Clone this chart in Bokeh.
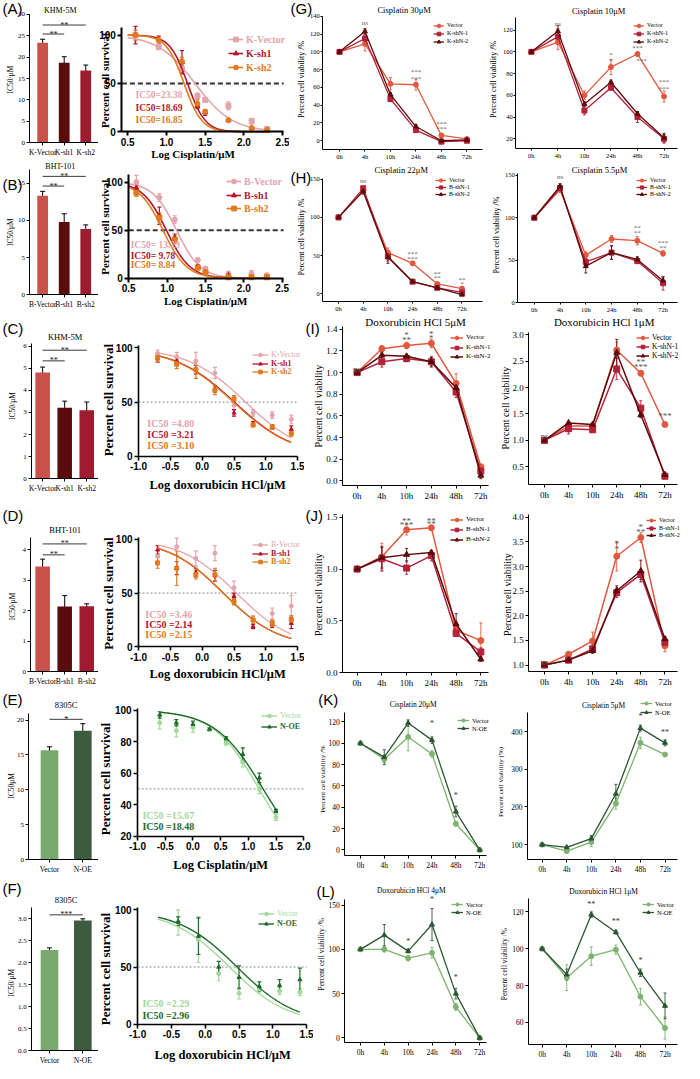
import numpy as np
from bokeh.plotting import figure
from bokeh.models import (Range1d, FixedTicker, Label, Legend, LegendItem, Whisker,
                          ColumnDataSource, TeeHead, PrintfTickFormatter)
from bokeh.layouts import column, row
from bokeh.embed import file_html
from bokeh.resources import INLINE

# ======================= DATA =======================
times = ["0h", "4h", "10h", "24h", "48h", "72h"]

# --- IC50 bar charts ---
barA_cats = ["K-Vector", "K-sh1", "K-sh2"]; barA_ic50 = [23.38, 18.69, 16.85]; barA_err = [0.8, 1.4, 1.3]
barB_cats = ["B-Vector", "B-sh1", "B-sh2"]; barB_ic50 = [13.29, 9.78, 8.84]; barB_err = [0.6, 1.1, 0.55]
barC_cats = ["K-Vector", "K-sh1", "K-sh2"]; barC_ic50 = [4.80, 3.21, 3.10]; barC_err = [0.25, 0.30, 0.37]
barD_cats = ["B-Vector", "B-sh1", "B-sh2"]; barD_ic50 = [3.46, 2.14, 2.15]; barD_err = [0.24, 0.36, 0.08]
barE_cats = ["Vector", "N-OE"]; barE_ic50 = [15.67, 18.48]; barE_err = [0.5, 1.0]
barF_cats = ["Vector", "N-OE"]; barF_ic50 = [2.29, 2.96]; barF_err = [0.05, 0.04]
# significance brackets: (from bar, to bar, height, text)
sigA = [(0, 2, 27.5, "**"), (0, 1, 25.4, "**")]
sigB = [(0, 2, 15.9, "**"), (0, 1, 14.6, "**")]
sigC = [(0, 2, 5.81, "**"), (0, 1, 5.33, "**")]
sigD = [(0, 2, 4.20, "**"), (0, 1, 3.84, "**")]
sigE = [(0, 1, 20.1, "*")]
sigF = [(0, 1, 3.09, "***")]

# --- dose-response curves ---
cisK_dose = [0.6, 0.9, 1.2, 1.4, 1.5, 1.8, 2.1, 2.3]
cisK_names = ["K-Vector", "K-sh1", "K-sh2"]
cisK_surv = [[100, 88, 65, 37, 33, 27, 11, 3], [100, 96, 72, 27, 20, 12, 4, 2], [100, 95, 73, 29, 21, 12, 4, 2]]
cisK_err = [[6, 3, 4, 3, 2, 4, 3, 1], [9, 3, 12, 3, 3, 1, 1, 1], [5, 4, 4, 4, 2, 1, 1, 1]]
cisK_ic50 = [23.38, 18.69, 16.85]; cisK_hill = [1.8, 3.8, 3.8]; cisK_fit = [0.5, 2.33]

cisB_dose = [0.6, 0.9, 1.1, 1.4, 1.5, 1.8, 2.1, 2.3]
cisB_names = ["B-Vector", "B-sh1", "B-sh2"]
cisB_surv = [[100, 84, 61, 19, 10, 5, 5, 3], [94, 65, 42, 12, 6, 3, 1, 1], [89, 63, 40, 11, 6, 1, 1, 1]]
cisB_err = [[7, 4, 4, 2, 2, 2, 3, 2], [3, 9, 4, 2, 1, 1, 1, 1], [4, 5, 4, 2, 1, 1, 1, 1]]
cisB_ic50 = [13.29, 9.78, 8.84]; cisB_hill = [2.8, 2.8, 2.8]; cisB_fit = [0.5, 2.3]

doxK_dose = [-0.7, -0.4, -0.1, 0.2, 0.5, 0.8, 1.1, 1.4]
doxK_names = ["K-Vector", "K-sh1", "K-sh2"]
doxK_surv = [[95, 92, 88, 77, 47, 40, 38, 34], [90, 88, 80, 62, 40, 30, 27, 25], [91, 85, 80, 61, 53, 29, 27, 21]]
doxK_err = [[3, 4, 8, 5, 5, 3, 3, 4], [3, 3, 4, 3, 3, 2, 2, 3], [4, 4, 8, 4, 3, 2, 2, 3]]
doxK_ic50 = [4.80, 3.21, 3.10]; doxK_hill = [0.96, 0.93, 0.93]; doxK_fit = [-0.7, 1.4]

doxB_dose = [-0.7, -0.4, -0.1, 0.2, 0.5, 0.8, 1.1, 1.4]
doxB_names = ["B-Vector", "B-sh1", "B-sh2"]
doxB_surv = [[84, 93, 82, 87, 55, 25, 31, 38], [90, 73, 69, 66, 47, 19, 21, 22], [78, 73, 67, 67, 42, 25, 22, 25]]
doxB_err = [[8, 8, 7, 7, 6, 4, 5, 10], [4, 6, 4, 5, 3, 2, 3, 5], [5, 16, 4, 6, 3, 3, 3, 4]]
doxB_ic50 = [3.46, 2.14, 2.15]; doxB_hill = [1.0, 1.0, 1.0]; doxB_fit = [-0.7, 1.4]

cisN_dose = [-0.6, -0.3, 0.0, 0.3, 0.6, 0.9, 1.2, 1.5]
cisN_names = ["Vector", "N-OE"]
cisN_surv = [[92, 87, 89, 88, 79, 67, 50, 32], [97, 92, 91, 88, 82, 72, 57, 36]]
cisN_err = [[4, 4, 3, 1, 1, 3, 3, 2], [2, 2, 2, 1, 1, 4, 3, 1]]
cisN_ic50 = [15.67, 18.48]; cisN_hill = [1.05, 1.0]; cisN_fit = [-0.6, 1.5]

doxN_dose = [-0.4, -0.1, 0.2, 0.5, 0.8, 1.1, 1.4]
doxN_names = ["Vector", "N-OE"]
doxN_surv = [[89, 74, 44, 27, 31, 29, 28], [90, 77, 50, 41, 33, 34, 39]]
doxN_err = [[11, 20, 6, 5, 3, 3, 3], [4, 16, 5, 10, 4, 5, 10]]
doxN_ic50 = [2.29, 2.96]; doxN_hill = [1.0, 1.0]; doxN_fit = [-0.7, 1.4]

# --- time-course viability ---
kNames = ["Vector", "K-shN-1", "K-shN-2"]
bNames = ["Vector", "B-shN-1", "B-shN-2"]
nNames = ["Vector", "N-OE"]
G1_vals = [[100, 109, 64, 63, 6, 2], [100, 115, 47, 12, -1, 0], [100, 123, 52, 16, 0, 1]]
G1_err = [[1, 8, 7, 6, 1, 1], [1, 4, 3, 2, 1, 1], [1, 3, 2, 2, 1, 1]]
G2_vals = [[100, 109, 60, 86, 98, 59], [100, 114, 46, 67, 40, 20], [100, 119, 52, 72, 43, 21]]
G2_err = [[1, 7, 4, 7, 2, 5], [1, 7, 4, 2, 5, 4], [1, 5, 2, 2, 2, 4]]
H1_vals = [[100, 135, 54, 40, 13, 7], [100, 138, 49, 16, 8, 2], [100, 134, 48, 16, 8, -1]]
H1_err = [[1, 5, 6, 2, 2, 2], [1, 3, 6, 1, 1, 1], [1, 3, 8, 1, 1, 1]]
H2_vals = [[100, 133, 56, 75, 73, 58], [100, 135, 48, 59, 49, 23], [100, 137, 43, 59, 51, 26]]
H2_err = [[1, 3, 4, 4, 5, 3], [1, 3, 5, 8, 3, 8], [1, 3, 8, 8, 3, 4]]
I1_vals = [[1.0, 1.22, 1.25, 1.27, 0.90, 0.13], [1.0, 1.10, 1.13, 1.10, 0.82, 0.09], [1.0, 1.16, 1.15, 1.10, 0.86, 0.05]]
I1_err = [[0.01, 0.03, 0.03, 0.04, 0.09, 0.02], [0.01, 0.05, 0.03, 0.05, 0.05, 0.03], [0.01, 0.02, 0.02, 0.04, 0.04, 0.03]]
I2_vals = [[1.0, 1.27, 1.27, 2.71, 2.27, 1.30], [1.0, 1.22, 1.20, 2.35, 1.61, 0.32], [1.0, 1.33, 1.30, 2.66, 1.48, 0.35]]
I2_err = [[0.01, 0.05, 0.03, 0.15, 0.05, 0.02], [0.01, 0.10, 0.05, 0.20, 0.14, 0.03], [0.01, 0.03, 0.02, 0.25, 0.05, 0.03]]
J1_vals = [[1.0, 1.12, 1.38, 1.40, 0.41, 0.31], [1.0, 1.10, 1.01, 1.13, 0.38, 0.20], [1.0, 1.11, 1.14, 1.16, 0.47, 0.13]]
J1_err = [[0.01, 0.13, 0.05, 0.02, 0.05, 0.17], [0.01, 0.12, 0.06, 0.05, 0.03, 0.04], [0.01, 0.10, 0.06, 0.02, 0.10, 0.02]]
J2_vals = [[1.0, 1.22, 1.49, 3.21, 3.59, 1.39], [1.0, 1.10, 1.33, 2.47, 2.84, 1.46], [1.0, 1.10, 1.29, 2.51, 2.91, 1.53]]
J2_err = [[0.02, 0.02, 0.18, 0.30, 0.10, 0.12], [0.02, 0.05, 0.08, 0.10, 0.10, 0.08], [0.02, 0.05, 0.05, 0.10, 0.22, 0.05]]
K1_vals = [[100, 85, 106, 90, 24.5, 0], [100, 87, 119, 103, 36, 0]]
K1_err = [[1, 3, 13, 3, 2, 1], [1, 7, 3, 3, 5, 1]]
K2_vals = [[100, 83, 107, 209, 370, 339], [100, 93, 116, 235, 409, 370]]
K2_err = [[3, 5, 12, 15, 15, 3], [3, 3, 8, 25, 8, 8]]
L1_vals = [[100, 100, 90, 96, 35, 0], [100, 116, 98, 128, 50, 0]]
L1_err = [[1, 3, 3, 6, 4, 1], [1, 12, 2, 18, 6, 1]]
L2_vals = [[100, 84.3, 96, 99.5, 74, 57], [100, 86, 118.5, 109, 87, 69]]
L2_err = [[0.5, 7, 5, 2.5, 4.5, 6], [0.5, 3, 1.5, 1, 2, 7]]
# significance marks: (time index, y, text)
G1_sig = [(1, 132, "ns"), (3, 77, "***"), (3, 69, "***"), (4, 19, "***"), (4, 13, "***")]
G2_sig = [(1, 126, "ns"), (3, 97, "*"), (3, 92, "*"), (4, 104, "***"), (4.15, 92, "***"), (5, 72, "***"), (5, 66, "***")]
H1_sig = [(1, 147, "ns"), (3, 52, "***"), (3, 46, "***"), (4, 25.7, "**"), (4, 20.6, "**"), (5, 18.6, "**"), (5, 13.5, "*")]
H2_sig = [(1, 148, "ns"), (4, 87.6, "**"), (4, 81.8, "**"), (5, 70, "***"), (5, 64, "**")]
I1_sig = [(0, 1.03, "ns"), (2, 1.345, "*"), (2, 1.30, "**"), (3, 1.36, "*"), (3, 1.32, "*")]
I2_sig = [(0, 1.09, "ns"), (4, 2.48, "**"), (4, 2.38, "***"), (5, 1.47, "***")]
J1_sig = [(2, 1.46, "**"), (2, 1.43, "***"), (3, 1.46, "**"), (3, 1.44, "**")]
J2_sig = [(0, 1.07, "ns"), (3, 3.46, "*"), (3, 3.36, "*"), (4, 3.80, "*"), (4, 3.70, "**")]
K1_sig = [(3, 119, "*"), (4, 51, "*")]
K2_sig = [(4, 439, "*"), (5, 397, "**")]
L1_sig = [(2, 109, "*"), (3, 156, "*"), (4, 68, "*")]
L2_sig = [(2, 124.2, "**"), (3, 114.6, "**"), (4, 93.7, "*")]

# ======================= STYLE =======================
SERIF = "Liberation Serif"
SANS = "Liberation Sans"
barRed = ["#c8534a", "#5a0b0b", "#9e1c2f"]
barGreen = ["#7aa970", "#3c5b3f"]
curveRed = ["#e3a4ac", "#b4142c", "#e07a1c"]
curveGreen = ["#a3d99b", "#1e6b2a"]
lineRed = ["#e2583e", "#b3213a", "#5e0a0a"]
lineGreen = ["#7db36e", "#2c5532"]

SX = 684 / 700
SY = 1063 / 1079
CAL = {}


def sx(v):
    return int(round(v * SX))


def sy(v):
    return int(round(v * SY))


def lin(v1, p1, v2, p2, p):
    return v1 + (p - p1) * (v2 - v1) / (p2 - p1)


RY = [0, 163, 320, 510, 699, 889, 1079]
RX = [[0, 100, 296, 497, 700], [0, 100, 296, 497, 700], [0, 100, 311, 506, 700],
      [0, 100, 311, 506, 700], [0, 100, 318, 500, 700], [0, 100, 320, 500, 700]]


def mkfig(r, c, frame, xcal, ycal):
    box = (RX[r][c], RY[r], RX[r][c + 1], RY[r + 1])
    bx0, by0, bx1, by1 = box
    fx0, fy0, fx1, fy1 = frame
    p = figure(width=sx(bx1) - sx(bx0), height=sy(by1) - sy(by0),
               min_border_left=0, min_border_right=0, min_border_top=0, min_border_bottom=0,
               x_range=Range1d(lin(*xcal, bx0), lin(*xcal, bx1)),
               y_range=Range1d(lin(*ycal, by1), lin(*ycal, by0)),
               output_backend="svg", toolbar_location=None)
    p.outline_line_color = None
    p.xgrid.visible = False
    p.ygrid.visible = False
    p.border_fill_color = "white"
    p.xaxis[0].fixed_location = lin(*ycal, fy1)
    p.yaxis[0].fixed_location = lin(*xcal, fx0)
    p.xaxis[0].bounds = (lin(*xcal, fx0), lin(*xcal, fx1))
    p.yaxis[0].bounds = (lin(*ycal, fy1), lin(*ycal, fy0))
    CAL[p.id] = (xcal, ycal, frame, box)
    return p


def txt(p, x, y, text, size, color="black", font=SERIF, bold=False, align="center", angle=0.0):
    xcal, ycal, _, _ = CAL[p.id]
    p.add_layout(Label(x=lin(*xcal, x), y=lin(*ycal, y), text=text, text_font=font,
                       text_font_size=f"{size}px", text_color=color,
                       text_font_style="bold" if bold else "normal",
                       text_align=align, text_baseline="middle", angle=angle))


def dlabel(p, x, y, text, size, color="black", font=SERIF):
    p.add_layout(Label(x=x, y=y, text=text, text_font=font, text_font_size=f"{size}px",
                       text_color=color, text_align="center", text_baseline="middle"))


def hline50(p, dash, color, width):
    xcal, ycal, frame, _ = CAL[p.id]
    p.segment(x0=[lin(*xcal, frame[0])], x1=[lin(*xcal, frame[2])], y0=[50], y1=[50],
              line_color=color, line_width=width, line_dash=dash)


def axes(p, xticks, yticks, size, font=SERIF, bold=False, lw=1.0, tick=3, xfmt=None, yfmt=None, standoff=2):
    for ax in (p.xaxis[0], p.yaxis[0]):
        ax.axis_line_width = lw
        ax.axis_line_color = "black"
        ax.major_tick_line_width = lw
        ax.major_tick_line_color = "black"
        ax.major_tick_out = tick
        ax.major_tick_in = 0
        ax.minor_tick_out = 0
        ax.minor_tick_in = 0
        ax.major_label_text_font = font
        ax.major_label_text_font_size = f"{size}px"
        ax.major_label_text_font_style = "bold" if bold else "normal"
        ax.major_label_text_color = "black"
        ax.major_label_standoff = standoff
    p.xaxis[0].ticker = FixedTicker(ticks=xticks)
    p.yaxis[0].ticker = FixedTicker(ticks=yticks)
    if xfmt:
        p.xaxis[0].formatter = PrintfTickFormatter(format=xfmt)
    if yfmt:
        p.yaxis[0].formatter = PrintfTickFormatter(format=yfmt)


def errbars(p, xs, ys, es, color, head=4, lw=1.0):
    src = ColumnDataSource(dict(x=list(xs), lo=[y - e for y, e in zip(ys, es)], hi=[y + e for y, e in zip(ys, es)]))
    p.add_layout(Whisker(source=src, base="x", lower="lo", upper="hi", line_color=color, line_width=lw,
                         upper_head=TeeHead(size=head, line_color=color, line_width=lw),
                         lower_head=TeeHead(size=head, line_color=color, line_width=lw)))


def leg(p, rends, label, tx, ty, size, color="black", gw=14, gh=10, bold=False, font=SERIF):
    _, _, _, box = CAL[p.id]
    ls = 3
    left = sx(tx) - gw - ls - sx(box[0])
    bottom = sy(box[3]) - sy(ty) - gh / 2
    p.add_layout(Legend(items=[LegendItem(label=label, renderers=rends)], location=(left, bottom),
                        padding=0, margin=0, spacing=0, glyph_width=gw, glyph_height=gh,
                        label_height=gh, label_width=5, label_standoff=ls,
                        border_line_alpha=0, background_fill_alpha=0,
                        label_text_font=font, label_text_font_size=f"{size}px",
                        label_text_color=color, label_text_font_style="bold" if bold else "normal"))


def bar_panel(p, cats, vals, errs, colors, width, yticks, ybound, sig, yfmt=None, star=8):
    xs = list(range(len(cats)))
    p.vbar(x=xs, top=vals, width=width, fill_color=colors[:len(cats)], line_color=None)
    errbars(p, xs, vals, errs, "black", head=5, lw=1)
    axes(p, xs, yticks, 7, tick=3, yfmt=yfmt)
    p.xaxis[0].major_label_overrides = {i: c for i, c in enumerate(cats)}
    p.xaxis[0].major_label_text_font_size = "7.5px"
    p.yaxis[0].bounds = ybound
    for (i, j, h, s) in sig:
        p.segment(x0=[i], y0=[h], x1=[j], y1=[h], line_color="#222222", line_width=0.9)
        dlabel(p, (i + j) / 2, h, s, star, "#222222")


def curve_panel(p, dose, survs, errs, colors, markers, ic50s, hills, fit, msize=5, lw=1.6):
    xf = np.linspace(fit[0], fit[1], 200)
    rends = []
    for s, e, c, m, ic, h in zip(survs, errs, colors, markers, ic50s, hills):
        yf = 100.0 / (1.0 + 10 ** ((xf - np.log10(ic)) * h))
        l = p.line(xf, yf, line_color=c, line_width=lw)
        errbars(p, dose, s, e, c, head=4, lw=1.2)
        sc = p.scatter(dose, s, marker=m, size=msize, color=c)
        rends.append([l, sc])
    return rends


def line_panel(p, vals, errs, colors, markers, msize, lw, head=3):
    xs = list(range(len(times)))
    rends = []
    for v, e, c, m in zip(vals, errs, colors, markers):
        l = p.line(xs, v, line_color=c, line_width=lw)
        errbars(p, xs, v, e, c, head=head, lw=0.9)
        sc = p.scatter(xs, v, marker=m, size=msize, color=c)
        rends.append([l, sc])
    p.xaxis[0].major_label_overrides = {i: t for i, t in enumerate(times)}
    return rends


mk3 = ["circle", "square", "triangle"]
mk2 = ["circle", "triangle"]
cm3 = ["square", "triangle", "circle"]
cm3b = ["circle", "triangle", "square"]

# ======================= ROW 0: A + G =======================
pA = mkfig(0, 0, (30, 12, 100, 144), (0, 43, 2, 87), (30, 14, 0, 144))
bar_panel(pA, barA_cats, barA_ic50, barA_err, barRed, 0.5, [0, 5, 10, 15, 20, 25, 30], (0, 30), sigA)
txt(pA, 2, 8, "(A)", 15, font=SANS, align="left")
txt(pA, 61, 10, "KHM-5M", 8)
txt(pA, 10, 80, "IC50/μM", 7.5, angle=np.pi / 2)

pAc = mkfig(0, 1, (124, 27, 290, 133), (0.5, 130, 2.5, 289), (100, 35, 0, 133))
hline50(pAc, "5 3", "#333333", 2)
r = curve_panel(pAc, cisK_dose, cisK_surv, cisK_err, curveRed, cm3, cisK_ic50, cisK_hill, cisK_fit)
axes(pAc, [0.5, 1.0, 1.5, 2.0, 2.5], [0, 50, 100], 10, font=SANS, bold=True, lw=2, tick=4, xfmt="%.1f")
for i, nm in enumerate(cisK_names):
    leg(pAc, r[i], nm, 252, [40, 54, 68][i], 10, curveRed[i], gw=15, gh=12, bold=True)
    txt(pAc, 138, [96, 109, 121][i], f"IC50={cisK_ic50[i]:.2f}", 9.5, curveRed[i], bold=True, align="left")
txt(pAc, 107, 81, "Percent cell survival", 11, bold=True, angle=np.pi / 2)
txt(pAc, 197, 155, "Log Cisplatin/μM", 11, bold=True)

pG1 = mkfig(0, 2, (330, 16, 493, 151), (0, 347, 5, 477), (140, 16, 0, 142))
r = line_panel(pG1, G1_vals, G1_err, lineRed, mk3, 5, 1.3)
axes(pG1, list(range(6)), [0, 20, 40, 60, 80, 100, 120, 140], 6.5, tick=2, standoff=1)
for x, y, s in G1_sig:
    dlabel(pG1, x, y, s, 7, "#666666")
for i, nm in enumerate(kNames):
    leg(pG1, r[i], nm, 457, [25, 33, 42][i], 6, gw=11, gh=9)
txt(pG1, 297, 8, "(G)", 15, font=SANS, align="left")
txt(pG1, 413, 10, "Cisplatin 30μM", 8.5)
txt(pG1, 308, 80, "Percent cell viability /%", 8, angle=np.pi / 2)

pG2 = mkfig(0, 3, (527, 17, 693, 150), (0, 543, 5, 679), (120, 30, 20, 140))
r = line_panel(pG2, G2_vals, G2_err, lineRed, mk3, 5, 1.3)
axes(pG2, list(range(6)), [20, 40, 60, 80, 100, 120], 6.5, tick=2, standoff=1)
for x, y, s in G2_sig:
    dlabel(pG2, x, y, s, 7, "#666666")
for i, nm in enumerate(kNames):
    leg(pG2, r[i], nm, 662, [25, 33, 42][i], 6, gw=11, gh=9)
txt(pG2, 612, 11, "Cisplatin 10μM", 8.5)
txt(pG2, 504, 80, "Percent cell viability /%", 8, angle=np.pi / 2)

# ======================= ROW 1: B + H =======================
pB = mkfig(1, 0, (30, 170, 100, 299), (0, 43, 2, 87), (10, 223, 0, 299))
bar_panel(pB, barB_cats, barB_ic50, barB_err, barRed, 0.5, [0, 5, 10, 15], (0, 16.8), sigB)
txt(pB, 2, 186, "(B)", 15, font=SANS, align="left")
txt(pB, 61, 168, "BHT-101", 8)
txt(pB, 10, 235, "IC50/μM", 7.5, angle=np.pi / 2)

pBc = mkfig(1, 1, (131, 176, 290, 282), (0.5, 131, 2.5, 288.5), (100, 184, 0, 282))
hline50(pBc, "5 3", "#333333", 2)
r = curve_panel(pBc, cisB_dose, cisB_surv, cisB_err, curveRed, cm3b, cisB_ic50, cisB_hill, cisB_fit)
axes(pBc, [0.5, 1.0, 1.5, 2.0, 2.5], [0, 50, 100], 10, font=SANS, bold=True, lw=2, tick=4, xfmt="%.1f")
for i, nm in enumerate(cisB_names):
    leg(pBc, r[i], nm, 250, [184, 198, 211][i], 10, curveRed[i], gw=15, gh=12, bold=True)
    txt(pBc, 133, [248, 259, 269][i], f"IC50= {cisB_ic50[i]:.2f}", 9.5, curveRed[i], bold=True, align="left")
txt(pBc, 107, 230, "Percent cell survival", 11, bold=True, angle=np.pi / 2)
txt(pBc, 210, 305, "Log Cisplatin/μM", 11, bold=True)

pH1 = mkfig(1, 2, (330, 180, 493, 306), (0, 346, 5, 472), (150, 181, 0, 298))
r = line_panel(pH1, H1_vals, H1_err, lineRed, mk3, 5, 1.3)
axes(pH1, list(range(6)), [0, 50, 100, 150], 6.5, tick=2, standoff=1)
for x, y, s in H1_sig:
    dlabel(pH1, x, y, s, 7, "#666666")
for i, nm in enumerate(bNames):
    leg(pH1, r[i], nm, 460, [183, 190, 197][i], 6, gw=11, gh=8)
txt(pH1, 297, 179, "(H)", 15, font=SANS, align="left")
txt(pH1, 410, 172, "Cisplatin 22μM", 8.5)
txt(pH1, 308, 240, "Percent cell viability /%", 8, angle=np.pi / 2)

pH2 = mkfig(1, 3, (529, 175, 693, 307), (0, 546, 5, 678), (150, 177, 0, 307))
r = line_panel(pH2, H2_vals, H2_err, lineRed, mk3, 5, 1.3)
axes(pH2, list(range(6)), [0, 50, 100, 150], 6.5, tick=2, standoff=1)
for x, y, s in H2_sig:
    dlabel(pH2, x, y, s, 7, "#666666")
for i, nm in enumerate(bNames):
    leg(pH2, r[i], nm, 665, [183, 190, 197][i], 6, gw=11, gh=8)
txt(pH2, 613, 172, "Cisplatin 5.5μM", 8.5)
txt(pH2, 507, 238, "Percent cell viability /%", 8, angle=np.pi / 2)

# ======================= ROW 2: C + I =======================
pC = mkfig(2, 0, (32, 348, 100, 486), (0, 43, 2, 88), (6, 351, 0, 486))
bar_panel(pC, barC_cats, barC_ic50, barC_err, barRed, 0.66, [0, 1, 2, 3, 4, 5, 6], (0, 6.1), sigC)
txt(pC, 2, 333, "(C)", 15, font=SANS, align="left")
txt(pC, 66, 342, "KHM-5M", 8.5)
txt(pC, 12, 412, "IC50/μM", 7.5, angle=np.pi / 2)

pCc = mkfig(2, 1, (141, 350, 304, 463), (-1.0, 141, 1.5, 304), (100, 353, 0, 463))
hline50(pCc, "2 2", "#888888", 1)
r = curve_panel(pCc, doxK_dose, doxK_surv, doxK_err, curveRed, cm3b, doxK_ic50, doxK_hill, doxK_fit, msize=4, lw=1.3)
axes(pCc, [-1.0, -0.5, 0.0, 0.5, 1.0, 1.5], [0, 50, 100], 10, font=SANS, bold=True, lw=1.6, tick=4, xfmt="%.1f")
for i, nm in enumerate(doxK_names):
    leg(pCc, r[i], nm, 277, [359, 368, 377][i], 8, curveRed[i], gw=16, gh=9, bold=(i > 0))
    txt(pCc, 150, [430, 441, 452][i], f"IC50 ={doxK_ic50[i]:.2f}", 10, curveRed[i], bold=True, align="left")
txt(pCc, 110, 406, "Percent cell survival", 13, bold=True, angle=np.pi / 2)
txt(pCc, 222, 492, "Log doxorubicin HCl/μM", 12.5, bold=True)

pI1 = mkfig(2, 2, (350, 331, 500, 493), (0, 365, 5, 492), (1.4, 334, 0, 488))
r = line_panel(pI1, I1_vals, I1_err, lineRed, mk3, 6, 1.5)
axes(pI1, list(range(6)), [0, 0.2, 0.4, 0.6, 0.8, 1.0, 1.2, 1.4], 9, yfmt="%.1f")
for x, y, s in I1_sig:
    dlabel(pI1, x, y, s, 9, "#555555")
for i, nm in enumerate(kNames):
    leg(pI1, r[i], nm, 477, [342, 352, 361][i], 7, gw=13, gh=9)
txt(pI1, 312, 333, "(I)", 15, font=SANS, align="left")
txt(pI1, 425, 327, "Doxorubicin HCl 5μM", 11)
txt(pI1, 325, 412, "Percent cell viability", 10, angle=np.pi / 2)

pI2 = mkfig(2, 3, (541, 337, 693, 492), (0, 557, 5, 680), (3.0, 339.5, 0.5, 473.7))
r = line_panel(pI2, I2_vals, I2_err, lineRed, mk3, 6, 1.5)
axes(pI2, list(range(6)), [0.5, 1.0, 1.5, 2.0, 2.5, 3.0], 9, yfmt="%.1f")
for x, y, s in I2_sig:
    dlabel(pI2, x, y, s, 9, "#555555")
for i, nm in enumerate(kNames):
    leg(pI2, r[i], nm, 667, [342, 351, 360][i], 7.5, gw=13, gh=9)
txt(pI2, 618, 327, "Doxorubicin HCl 1μM", 11)
txt(pI2, 517, 414, "Percent cell viability", 10, angle=np.pi / 2)

# ======================= ROW 3: D + J =======================
pD = mkfig(3, 0, (31, 545, 100, 681), (0, 43, 2, 88), (4, 558, 0, 681))
bar_panel(pD, barD_cats, barD_ic50, barD_err, barRed, 0.66, [0, 1, 2, 3, 4], (0, 4.4), sigD)
txt(pD, 2, 523, "(D)", 15, font=SANS, align="left")
txt(pD, 66, 538, "BHT-101", 8.5)
txt(pD, 12, 615, "IC50/μM", 7.5, angle=np.pi / 2)

pDc = mkfig(3, 1, (141, 545, 304, 656), (-1.0, 141, 1.5, 304), (100, 547, 0, 656))
hline50(pDc, "2 2", "#888888", 1)
r = curve_panel(pDc, doxB_dose, doxB_surv, doxB_err, curveRed, cm3b, doxB_ic50, doxB_hill, doxB_fit, msize=4, lw=1.3)
axes(pDc, [-1.0, -0.5, 0.0, 0.5, 1.0, 1.5], [0, 50, 100], 10, font=SANS, bold=True, lw=1.6, tick=4, xfmt="%.1f")
for i, nm in enumerate(doxB_names):
    leg(pDc, r[i], nm, 277, [552, 561, 569][i], 8, curveRed[i], gw=16, gh=9, bold=(i > 0))
    txt(pDc, 148, [623, 633, 643][i], f"IC50 ={doxB_ic50[i]:.2f}", 10, curveRed[i], bold=True, align="left")
txt(pDc, 110, 602, "Percent cell survival", 13, bold=True, angle=np.pi / 2)
txt(pDc, 222, 683, "Log doxorubicin HCl/μM", 12.5, bold=True)

pJ1 = mkfig(3, 2, (350, 522, 500, 682), (0, 365, 5, 492), (1.5, 525, 0, 682))
r = line_panel(pJ1, J1_vals, J1_err, lineRed, mk3, 6, 1.5)
axes(pJ1, list(range(6)), [0, 0.5, 1.0, 1.5], 9, yfmt="%.1f")
for x, y, s in J1_sig:
    dlabel(pJ1, x, y, s, 9, "#555555")
for i, nm in enumerate(bNames):
    leg(pJ1, r[i], nm, 477, [527, 537, 547][i], 7, gw=13, gh=9)
txt(pJ1, 312, 523, "(J)", 15, font=SANS, align="left")
txt(pJ1, 325, 603, "Percent cell viability", 10, angle=np.pi / 2)

pJ2 = mkfig(3, 3, (541, 522, 693, 681), (0, 557, 5, 680), (4.0, 525, 1.0, 674.3))
r = line_panel(pJ2, J2_vals, J2_err, lineRed, mk3, 6, 1.5)
axes(pJ2, list(range(6)), [1.0, 1.5, 2.0, 2.5, 3.0, 3.5, 4.0], 9, yfmt="%.1f")
for x, y, s in J2_sig:
    dlabel(pJ2, x, y, s, 9, "#555555")
for i, nm in enumerate(bNames):
    leg(pJ2, r[i], nm, 674, [528, 536, 543][i], 6, gw=10, gh=8)
txt(pJ2, 519, 603, "Percent cell viability", 10, angle=np.pi / 2)

# ======================= ROW 4: E + K =======================
pE = mkfig(4, 0, (29, 723, 100, 872), (0, 50, 1, 84), (20, 730, 0, 872))
bar_panel(pE, barE_cats, barE_ic50, barE_err, barGreen, 0.53, [0, 5, 10, 15, 20], (0, 21), sigE, star=9)
txt(pE, 2, 709, "(E)", 15, font=SANS, align="left")
txt(pE, 67, 715, "8305C", 8.5)
txt(pE, 11, 797, "IC50μM", 7.5, angle=np.pi / 2)

pEc = mkfig(4, 1, (140, 718, 310, 848), (-1.0, 140, 2.0, 310), (100, 720, 20, 848))
hline50(pEc, "2 2", "#888888", 1)
r = curve_panel(pEc, cisN_dose, cisN_surv, cisN_err, curveGreen, mk2, cisN_ic50, cisN_hill, cisN_fit, msize=4, lw=1.4)
axes(pEc, [-1.0, -0.5, 0.0, 0.5, 1.0, 1.5, 2.0], [20, 40, 60, 80, 100], 10, font=SANS, bold=True, lw=1.6, tick=4, xfmt="%.1f")
for i, nm in enumerate(cisN_names):
    leg(pEc, r[i], nm, 287, [726, 737][i], 8, curveGreen[i], gw=16, gh=9, bold=(i > 0))
    txt(pEc, 145, [827, 838][i], f"IC50 ={cisN_ic50[i]:.2f}", 10, curveGreen[i], bold=True, align="left")
txt(pEc, 107, 790, "Percent cell survival", 13, bold=True, angle=np.pi / 2)
txt(pEc, 225, 877, "Log Cisplatin/μM", 12.5, bold=True)

pK1 = mkfig(4, 2, (352, 722, 497, 868), (0, 368, 5, 490), (120, 732, 0, 862))
r = line_panel(pK1, K1_vals, K1_err, lineGreen, mk2, 5, 1.3)
axes(pK1, list(range(6)), [0, 20, 40, 60, 80, 100, 120], 7.5)
for x, y, s in K1_sig:
    dlabel(pK1, x, y, s, 8, "#333333")
for i, nm in enumerate(nNames):
    leg(pK1, r[i], nm, 483, [731, 739][i], 6.5, gw=12, gh=8)
txt(pK1, 325, 709, "(K)", 15, font=SANS, align="left")
txt(pK1, 422, 714, "Cisplatin 20μM", 7.5)
txt(pK1, 330, 790, "Percent cell viability /%", 7, angle=np.pi / 2)

pK2 = mkfig(4, 3, (539, 722, 693, 872), (0, 554, 5, 680), (400, 741.7, 100, 856.7))
r = line_panel(pK2, K2_vals, K2_err, lineGreen, mk2, 5, 1.3)
axes(pK2, list(range(6)), [100, 200, 300, 400], 7.5)
for x, y, s in K2_sig:
    dlabel(pK2, x, y, s, 8, "#333333")
for i, nm in enumerate(nNames):
    leg(pK2, r[i], nm, 670, [714, 723][i], 6.5, gw=12, gh=8)
txt(pK2, 617, 715, "Cisplatin 5μM", 7.5)
txt(pK2, 512, 793, "Percent cell viability (%)", 7, angle=np.pi / 2)

# ======================= ROW 5: F + L =======================
pF = mkfig(5, 0, (32, 921, 100, 1066), (0, 50, 1, 84), (3.0, 932, 0.0, 1066))
bar_panel(pF, barF_cats, barF_ic50, barF_err, barGreen, 0.53, [0, 0.5, 1.0, 1.5, 2.0, 2.5, 3.0], (0, 3.25), sigF, yfmt="%.1f")
txt(pF, 2, 901, "(F)", 15, font=SANS, align="left")
txt(pF, 67, 913, "8305C", 8.5)
txt(pF, 11, 997, "IC50/μM", 7.5, angle=np.pi / 2)

pFc = mkfig(5, 1, (140, 921, 313, 1039), (-1.0, 140, 1.5, 313), (100, 923, 0, 1039))
hline50(pFc, "2 2", "#888888", 1)
r = curve_panel(pFc, doxN_dose, doxN_surv, doxN_err, curveGreen, mk2, doxN_ic50, doxN_hill, doxN_fit, msize=4, lw=1.4)
axes(pFc, [-1.0, -0.5, 0.0, 0.5, 1.0, 1.5], [0, 50, 100], 10, font=SANS, bold=True, lw=1.6, tick=4, xfmt="%.1f")
for i, nm in enumerate(doxN_names):
    leg(pFc, r[i], nm, 283, [927, 937][i], 8, curveGreen[i], gw=16, gh=9, bold=(i > 0))
    txt(pFc, 145, [1018, 1030][i], f"IC50 ={doxN_ic50[i]:.2f}", 10, curveGreen[i], bold=True, align="left")
txt(pFc, 107, 983, "Percent cell survival", 13, bold=True, angle=np.pi / 2)
txt(pFc, 227, 1070, "Log doxorubicin HCl/μM", 12.5, bold=True)

pL1 = mkfig(5, 2, (352, 912, 497, 1058), (0, 368, 5, 490), (150, 918, 0, 1053))
r = line_panel(pL1, L1_vals, L1_err, lineGreen, mk2, 5, 1.3)
axes(pL1, list(range(6)), [0, 50, 100, 150], 7.5)
for x, y, s in L1_sig:
    dlabel(pL1, x, y, s, 8, "#333333")
for i, nm in enumerate(nNames):
    leg(pL1, r[i], nm, 477, [918, 926][i], 6.5, gw=12, gh=8)
txt(pL1, 323, 904, "(L)", 15, font=SANS, align="left")
txt(pL1, 420, 903, "Doxorubicin HCl 4μM", 7.5)
txt(pL1, 328, 968, "Percent cell viability /%", 7.5, angle=np.pi / 2)

pL2 = mkfig(5, 3, (540, 911, 693, 1060), (0, 554, 5, 680), (120, 925, 60, 1037.3))
r = line_panel(pL2, L2_vals, L2_err, lineGreen, mk2, 5, 1.3)
axes(pL2, list(range(6)), [60, 80, 100, 120], 7.5)
for x, y, s in L2_sig:
    dlabel(pL2, x, y, s, 8, "#333333")
for i, nm in enumerate(nNames):
    leg(pL2, r[i], nm, 672, [918, 926][i], 6.5, gw=12, gh=8)
txt(pL2, 617, 904, "Doxorubicin HCl 1μM", 7.5)
txt(pL2, 515, 978, "Percent cell viability /%", 7.5, angle=np.pi / 2)

layout = column(
    row(pA, pAc, pG1, pG2),
    row(pB, pBc, pH1, pH2),
    row(pC, pCc, pI1, pI2),
    row(pD, pDc, pJ1, pJ2),
    row(pE, pEc, pK1, pK2),
    row(pF, pFc, pL1, pL2),
)

open("out.html", "w").write(file_html(layout, INLINE))
